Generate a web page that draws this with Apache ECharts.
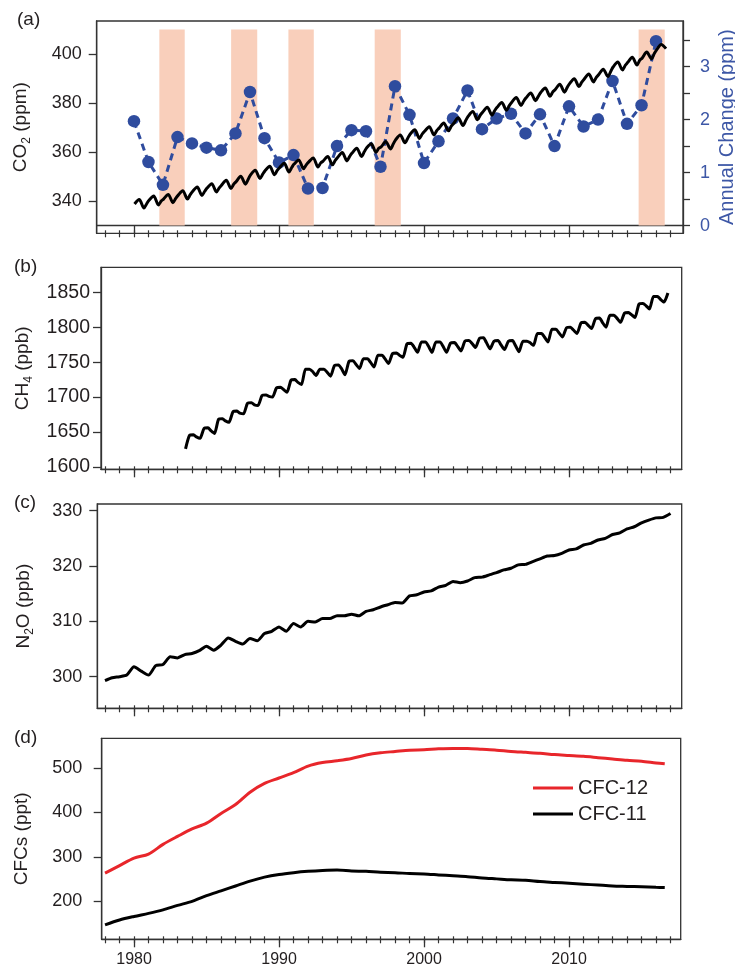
<!DOCTYPE html>
<html><head><meta charset="utf-8">
<script src="https://cdn.jsdelivr.net/npm/echarts@6/dist/echarts.min.js"></script>
<style>html,body{margin:0;padding:0;background:#fff}#c{width:735px;height:966px}</style>
</head><body><div id="c"></div>
<script>
// ---------------- DATA ----------------
// (a) CO2 (ppm): four readings per year at fixed months
const co2StartYear = 1980;
const co2MonthFrac = [0.04, 0.36, 0.69, 0.88];
const co2Values = [
  [338.8,340.6,337.1,338.9],[340.3,342.0,338.4,340.0],[340.8,342.7,339.3,341.1],[342.3,344.2,340.8,342.6],
  [343.9,345.7,342.3,344.0],[345.3,347.1,343.7,345.4],[346.5,348.5,345.1,346.9],[347.9,350.1,346.9,348.9],
  [350.7,352.6,349.2,351.0],[352.4,354.2,350.7,352.5],[353.6,355.4,351.9,353.7],[355.1,356.8,353.2,354.8],
  [355.9,357.6,353.9,355.6],[356.3,358.2,354.8,356.6],[357.8,359.8,356.4,358.3],[359.6,361.6,358.2,360.1],
  [361.7,363.4,359.9,361.6],[362.1,364.3,361.3,363.3],[365.0,367.0,363.8,365.7],[367.3,369.1,365.6,367.4],
  [368.5,370.4,367.0,368.8],[369.8,371.9,368.7,370.6],[371.7,374.0,370.9,372.9],[374.6,376.6,373.2,375.1],
  [376.3,378.3,375.1,377.0],[378.3,380.3,377.1,379.0],[380.3,382.3,379.1,380.9],[382.2,384.2,381.0,382.8],
  [384.3,386.2,382.8,384.6],[385.5,387.7,384.5,386.5],[388.0,390.0,386.8,388.6],[389.8,391.9,388.7,390.6],
  [391.6,393.9,390.9,393.0],[394.8,396.8,393.6,395.5],[396.6,398.8,395.6,397.6],[398.4,400.9,398.1,400.3],
  [401.8,404.0,402.3]
];
// (a) annual CO2 change (ppm), right axis
const growthYears = [1980,1981,1982,1983,1984,1985,1986,1987,1988,1989,1990,1991,1992,1993,1994,1995,1996,1997,1998,
  1999,2000,2001,2002,2003,2004,2005,2006,2007,2008,2009,2010,2011,2012,2013,2014,2015,2016];
const growthValues = [1.97,1.20,0.77,1.67,1.55,1.47,1.42,1.74,2.52,1.65,1.19,1.33,0.70,0.71,1.50,1.80,1.78,1.11,2.63,
  2.09,1.18,1.59,2.02,2.55,1.82,2.02,2.11,1.74,2.10,1.50,2.25,1.87,2.00,2.73,1.92,2.27,3.48];
// El Nino periods (shaded), start/end year, and their height on the right axis
const ensoPeriods = [[1981.75,1983.5],[1986.7,1988.5],[1990.65,1992.4],[1996.6,1998.4],[2014.8,2016.6]];
const ensoTop = 3.7;
// (b) CH4 (ppb): four readings per year
const ch4StartYear = 1983;
const ch4MonthFrac = [0.1, 0.3, 0.55, 0.82];
const ch4Values = [
  [null,null,1626,1645],[1646,1643,1641,1655],[1656,1652,1648,1668],[1669,1666,1664,1679],[1680,1677,1676,1691],
  [1692,1689,1688,1702],[1703,1701,1700,1713],[1714,1711,1707,1724],[1725,1721,1718,1740],[1740,1737,1731,1740],
  [1740,1736,1730,1745],[1746,1741,1732,1751],[1752,1747,1741,1755],[1755,1750,1743,1760],[1760,1755,1748,1762],
  [1763,1760,1757,1776],[1777,1772,1764,1779],[1779,1773,1764,1779],[1779,1773,1764,1777],[1778,1773,1766,1780],
  [1781,1777,1771,1784],[1785,1778,1769,1780],[1781,1775,1768,1780],[1781,1774,1765,1780],[1780,1778,1774,1791],
  [1791,1786,1779,1797],[1797,1792,1786,1799],[1800,1796,1791,1806],[1807,1803,1798,1812],[1813,1807,1800,1817],
  [1817,1813,1807,1820],[1821,1818,1814,1833],[1834,1831,1826,1844],[1844,1840,1836,1849]
];
// (c) N2O (ppb): two readings per year from 1978.0
const n2oStartYear = 1978;
const n2oStep = 0.5;
const n2oValues = [
  299.3,299.8, 300.0,300.3, 301.8,301.0, 300.3,302.0, 302.2,303.6, 303.4,304.0, 304.2,304.7, 305.5,304.8,
  305.7,307.0, 306.4,305.9, 306.9,306.5, 307.8,308.2, 309.0,308.2, 309.6,309.0, 310.0,309.9, 310.5,310.5,
  311.0,311.0, 311.3,311.0, 311.8,312.1, 312.6,313.0, 313.4,313.3, 314.6,314.8, 315.3,315.5, 316.2,316.5,
  317.2,317.0, 317.3,317.9, 318.0,318.4, 318.8,319.3, 319.6,320.2, 320.3,320.8, 321.3,321.8, 321.9,322.3,
  322.9,323.1, 323.8,324.1, 324.7,325.0, 325.7,326.0, 326.7,327.1, 327.8,328.3, 328.7,328.8, 329.5
];
// (d) CFCs (ppt)
const cfcYears = [1978,1979,1980,1981,1982,1983,1984,1985,1986,1987,1988,1989,1990,1991,1992,1993,1994,1995,1996,1997,
  1998,1999,2000,2001,2002,2003,2004,2005,2006,2007,2008,2009,2010,2011,2012,2013,2014,2015,2016,2016.6];
const cfc12Values = [263,280,297,306,328,346,363,376,398,418,446,466,478,490,505,513,517,522,530,535,
  538,541,542,544,545,545,543,541,538,536,534,531,529,527,524,521,518,516,512,510];
const cfc11Values = [146,157,165,172,180,190,199,212,223,234,245,254,260,264,267,269,270,268,267,265,
  264,262,261,259,257,255,252,250,248,247,244,242,240,238,236,234,233,232,231,230.5];
// tick labels
const decadeTicks = [1980,1990,2000,2010];
const yearTicks = []; for (let y = 1978; y <= 2017; y++) yearTicks.push(y);
const co2Ticks = [340,360,380,400];
const growthTicks = [0,1,2,3];
const growthMinorTicks = [0,0.5,1,1.5,2,2.5,3,3.5];
const ch4Ticks = [1600,1650,1700,1750,1800,1850];
const n2oTicks = [300,310,320,330];
const cfcTicks = [200,300,400,500];

// ---------------- BUILD ----------------
const FONT = '"Liberation Sans", Arial, Helvetica, sans-serif';
const AX = '#333333';
const TXT = '#231f20';
const BLUE = '#2f4c9e';
const BLUE_TXT = '#3d57a6';
const SHADE = '#f9cfbb';
const plain = v => String(v);

const co2Data = [];
co2Values.forEach((row, i) => row.forEach((v, k) => co2Data.push([co2StartYear + i + co2MonthFrac[k], v])));
const ch4Data = [];
ch4Values.forEach((row, i) => row.forEach((v, k) => { if (v !== null) ch4Data.push([ch4StartYear + i + ch4MonthFrac[k], v]); }));
const n2oData = n2oValues.map((v, i) => [n2oStartYear + i * n2oStep, v]);
const growthData = growthYears.map((y, i) => [y, growthValues[i]]);
const cfc12Data = cfcYears.map((y, i) => [y, cfc12Values[i]]);
const cfc11Data = cfcYears.map((y, i) => [y, cfc11Values[i]]);

const panels = [
  {left: 96.7, top: 21, right: 683, bottom: 233.3, xmin: 1977.43, xmax: 2017.86},
  {left: 101, top: 267.3, right: 681.7, bottom: 469.3, xmin: 1977.72, xmax: 2017.77},
  {left: 97.3, top: 504, right: 681.7, bottom: 708.3, xmin: 1977.47, xmax: 2017.77},
  {left: 101.7, top: 738.3, right: 680.7, bottom: 939.3, xmin: 1977.77, xmax: 2017.70}
];

const grids = panels.map(p => ({
  left: p.left, top: p.top, width: p.right - p.left, height: p.bottom - p.top,
  containLabel: false, outerBoundsMode: 'none',
  show: true, borderColor: AX, borderWidth: 1.3, backgroundColor: 'transparent'
}));

const xAxes = [];
panels.forEach((p, g) => {
  const base = {gridIndex: g, type: 'value', min: p.xmin, max: p.xmax, position: 'bottom', splitLine: {show: false}};
  xAxes.push(Object.assign({}, base, {
    axisLine: {show: true, lineStyle: {color: AX, width: 1.3}},
    axisTick: {show: true, customValues: decadeTicks, length: 8, lineStyle: {color: AX, width: 1.3}},
    axisLabel: {show: g === 3, customValues: decadeTicks, formatter: plain, margin: 12, fontSize: 16, color: TXT, fontFamily: FONT}
  }));
  xAxes.push(Object.assign({}, base, {
    axisLine: {show: false},
    axisTick: {show: true, customValues: yearTicks, length: 4, lineStyle: {color: AX, width: 1.2}},
    axisLabel: {show: false}
  }));
  xAxes.push(Object.assign({}, base, {
    axisLine: {show: false},
    axisTick: {show: true, inside: true, customValues: yearTicks, length: 3, lineStyle: {color: AX, width: 1.2}},
    axisLabel: {show: false}
  }));
});

const nameRich = {
  n: {fontSize: 19, lineHeight: 24, color: TXT, fontFamily: FONT},
  s: {fontSize: 12, lineHeight: 12, verticalAlign: 'bottom', color: TXT, fontFamily: FONT}
};
function leftY(g, min, max, ticks, name, gap, labelMargin, labelSize) {
  return {
    gridIndex: g, type: 'value', position: 'left', min: min, max: max,
    splitLine: {show: false},
    axisLine: {show: true, lineStyle: {color: AX, width: 1.3}},
    axisTick: {show: true, customValues: ticks, length: 8, lineStyle: {color: AX, width: 1.3}},
    axisLabel: {customValues: ticks, formatter: plain, margin: labelMargin, fontSize: labelSize, color: TXT, fontFamily: FONT},
    name: name, nameLocation: 'middle', nameGap: gap, nameRotate: 90, nameMoveOverlap: false,
    nameTextStyle: {rich: nameRich, fontSize: 19, color: TXT, fontFamily: FONT}
  };
}
const yAxes = [
  leftY(0, 326.8, 413.6, co2Ticks, '{n|CO}{s|2}{n| (ppm)}', 64, 15, 18),
  {
    gridIndex: 0, type: 'value', position: 'right', min: -0.145, max: 3.86,
    splitLine: {show: false},
    axisLine: {show: true, lineStyle: {color: AX, width: 1.3}},
    axisTick: {show: true, customValues: growthMinorTicks, length: 7, lineStyle: {color: AX, width: 1.3}},
    axisLabel: {customValues: growthTicks, formatter: plain, margin: 17, fontSize: 18, color: BLUE_TXT, fontFamily: FONT},
    name: 'Annual Change (ppm)', nameLocation: 'middle', nameGap: 34, nameRotate: 90, nameMoveOverlap: false,
    nameTextStyle: {fontSize: 20, color: BLUE_TXT, fontFamily: FONT}
  },
  leftY(1, 1596.7, 1885.7, ch4Ticks, '{n|CH}{s|4}{n| (ppb)}', 66, 11, 19.5),
  leftY(2, 294.29, 331.21, n2oTicks, '{n|N}{s|2}{n|O (ppb)}', 62, 15, 18),
  leftY(3, 113.4, 567.8, cfcTicks, '{n|CFCs (ppt)}', 68, 19.5, 18)
];

const series = [
  {
    type: 'custom', name: 'ENSO', xAxisIndex: 0, yAxisIndex: 1, z: 1, silent: true,
    data: ensoPeriods.map(p => [p[0], p[1], 0, ensoTop]),
    encode: {x: [0, 1], y: [2, 3]},
    renderItem: function (params, api) {
      const a = api.coord([api.value(0), api.value(2)]);
      const b = api.coord([api.value(1), api.value(3)]);
      return {type: 'rect', shape: {x: a[0], y: b[1], width: b[0] - a[0], height: a[1] - b[1]}, style: {fill: SHADE}};
    }
  },
  {
    type: 'line', name: 'Annual Change', xAxisIndex: 0, yAxisIndex: 1, z: 3,
    data: growthData, symbol: 'circle', symbolSize: 12.5, showSymbol: true,
    itemStyle: {color: BLUE}, lineStyle: {color: BLUE, width: 3, type: [7, 5]}
  },
  {
    type: 'line', name: 'CO2', xAxisIndex: 0, yAxisIndex: 0, z: 4,
    data: co2Data, symbol: 'none', smooth: 0.3, lineStyle: {color: '#000', width: 3}
  },
  {
    type: 'line', name: 'CH4', xAxisIndex: 3, yAxisIndex: 2, z: 3,
    data: ch4Data, symbol: 'none', smooth: 0.2, lineStyle: {color: '#000', width: 3}
  },
  {
    type: 'line', name: 'N2O', xAxisIndex: 6, yAxisIndex: 3, z: 3,
    data: n2oData, symbol: 'none', smooth: 0.2, lineStyle: {color: '#000', width: 3}
  },
  {
    type: 'line', name: 'CFC-12', xAxisIndex: 9, yAxisIndex: 4, z: 3,
    data: cfc12Data, symbol: 'none', smooth: 0.3, itemStyle: {color: '#e8262b'}, lineStyle: {color: '#e8262b', width: 3}
  },
  {
    type: 'line', name: 'CFC-11', xAxisIndex: 9, yAxisIndex: 4, z: 3,
    data: cfc11Data, symbol: 'none', smooth: 0.3, itemStyle: {color: '#000'}, lineStyle: {color: '#000', width: 3}
  }
];

const labelStyle = {fontSize: 19, fill: TXT, fontFamily: FONT};
const option = {
  animation: false,
  backgroundColor: '#fff',
  grid: grids,
  xAxis: xAxes,
  yAxis: yAxes,
  legend: {
    data: ['CFC-12', 'CFC-11'], orient: 'vertical', left: 533, top: 778, padding: 0,
    icon: 'rect', itemWidth: 40, itemHeight: 3, itemGap: 6,
    textStyle: {fontSize: 20, color: TXT, fontFamily: FONT}
  },
  graphic: [
    {type: 'text', left: 17, top: 10, style: Object.assign({text: '(a)'}, labelStyle)},
    {type: 'text', left: 14, top: 257, style: Object.assign({text: '(b)'}, labelStyle)},
    {type: 'text', left: 14, top: 493, style: Object.assign({text: '(c)'}, labelStyle)},
    {type: 'text', left: 14, top: 728, style: Object.assign({text: '(d)'}, labelStyle)}
  ],
  series: series
};
const chart = echarts.init(document.getElementById('c'), null, {renderer: 'canvas'});
chart.setOption(option);
</script>
</body></html>
